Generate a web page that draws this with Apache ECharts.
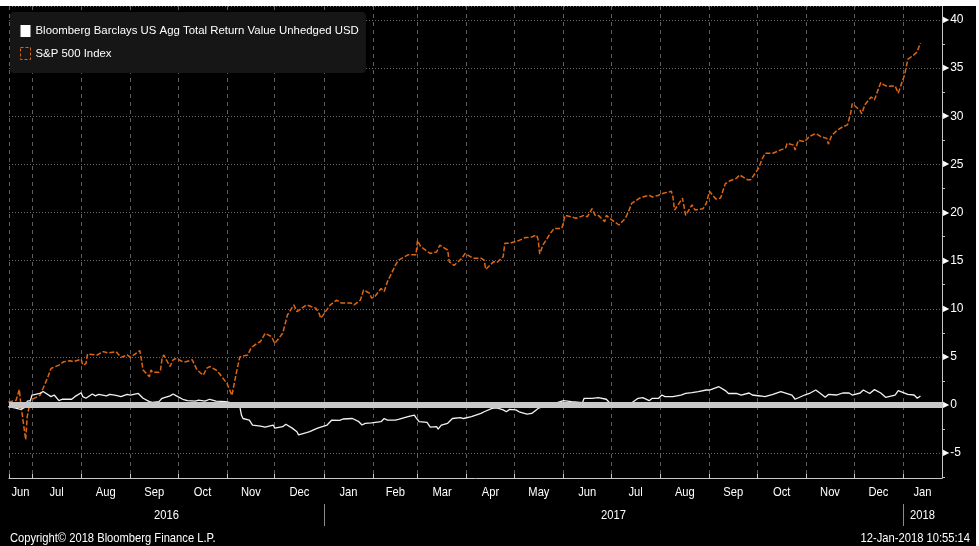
<!DOCTYPE html>
<html><head><meta charset="utf-8">
<script src="https://cdn.jsdelivr.net/npm/echarts@6/dist/echarts.min.js"></script>
<style>
html,body{margin:0;padding:0;background:#fff;overflow:hidden;}
#c{position:absolute;left:0;top:6px;width:976px;height:540px;background:#000;}
</style></head><body><div id="c"></div>
<script>
const seriesNames = ['Bloomberg Barclays US Agg Total Return Value Unhedged USD', 'S&P 500 Index'];
const monthNames = ['Jan','Feb','Mar','Apr','May','Jun','Jul','Aug','Sep','Oct','Nov','Dec'];
const yearLabels = ['2016','2017','2018'];
const footerLeft = 'Copyright\u00A9 2018 Bloomberg Finance L.P.';
const footerRight = '12-Jan-2018 10:55:14';

const sp500 = [
['2016-06-16',0.3],['2016-06-21',0.5],['2016-06-23',1.6],['2016-06-24',0.0],['2016-06-27',-3.6],['2016-06-28',-1.2],['2016-06-30',0.5],
['2016-07-06',1.0],['2016-07-08',1.75],['2016-07-11',2.9],['2016-07-13',3.8],['2016-07-18',4.15],['2016-07-21',4.5],['2016-07-25',4.6],['2016-07-27',4.5],
['2016-08-01',4.75],['2016-08-02',4.15],['2016-08-04',4.3],['2016-08-05',5.3],['2016-08-11',5.2],['2016-08-15',5.55],['2016-08-18',5.4],['2016-08-23',5.55],['2016-08-26',4.95],['2016-08-30',5.2],
['2016-09-01',4.95],['2016-09-07',5.65],['2016-09-08',5.55],['2016-09-09',3.64],['2016-09-13',2.94],['2016-09-14',3.64],['2016-09-15',3.4],['2016-09-19',3.4],['2016-09-20',3.64],['2016-09-21',4.85],['2016-09-22',5.2],['2016-09-26',4.0],['2016-09-28',4.7],['2016-09-30',4.85],
['2016-10-04',4.5],['2016-10-06',4.5],['2016-10-10',4.7],['2016-10-13',3.64],['2016-10-17',3.1],['2016-10-19',3.8],['2016-10-21',4.0],['2016-10-25',3.64],['2016-10-27',3.3],
['2016-11-01',2.2],['2016-11-03',1.4],['2016-11-04',1.0],['2016-11-07',3.5],['2016-11-09',5.0],['2016-11-14',5.2],['2016-11-16',5.9],['2016-11-18',6.2],['2016-11-22',6.6],['2016-11-25',7.45],['2016-11-29',7.1],
['2016-12-01',6.4],['2016-12-06',7.45],['2016-12-09',9.35],['2016-12-13',10.4],['2016-12-15',9.7],['2016-12-21',10.4],['2016-12-27',10.05],['2016-12-29',9.5],['2016-12-30',9.0],
['2017-01-05',10.4],['2017-01-09',10.9],['2017-01-12',10.6],['2017-01-18',10.6],['2017-01-20',10.4],['2017-01-24',10.9],['2017-01-26',11.95],['2017-01-30',11.6],['2017-01-31',11.1],
['2017-02-02',11.25],['2017-02-06',12.1],['2017-02-08',11.8],['2017-02-10',12.8],['2017-02-15',14.5],['2017-02-17',15.05],['2017-02-23',15.6],['2017-02-28',15.6],
['2017-03-01',17.1],['2017-03-03',16.45],['2017-03-09',15.75],['2017-03-13',15.9],['2017-03-15',16.6],['2017-03-20',16.1],['2017-03-21',14.9],['2017-03-24',14.5],['2017-03-29',15.25],['2017-03-31',15.75],
['2017-04-05',15.25],['2017-04-10',15.25],['2017-04-12',15.05],['2017-04-13',14.1],['2017-04-18',14.9],['2017-04-20',14.8],['2017-04-24',15.4],['2017-04-25',16.8],['2017-04-28',16.8],
['2017-05-04',17.1],['2017-05-08',17.4],['2017-05-11',17.4],['2017-05-15',17.65],['2017-05-16',17.2],['2017-05-17',15.7],['2017-05-19',16.6],['2017-05-23',17.65],['2017-05-26',18.35],['2017-05-31',18.35],
['2017-06-02',19.7],['2017-06-06',19.55],['2017-06-09',19.4],['2017-06-14',19.7],['2017-06-16',19.55],['2017-06-19',20.4],['2017-06-21',19.7],['2017-06-23',19.7],['2017-06-27',19.05],['2017-06-28',19.7],['2017-06-30',19.4],
['2017-07-06',18.7],['2017-07-10',19.4],['2017-07-11',19.55],['2017-07-12',20.1],['2017-07-14',20.95],['2017-07-19',21.5],['2017-07-21',21.6],['2017-07-25',21.8],['2017-07-27',21.6],['2017-07-31',21.8],
['2017-08-03',22.0],['2017-08-08',22.2],['2017-08-09',21.6],['2017-08-10',20.25],['2017-08-15',21.5],['2017-08-16',21.3],['2017-08-17',19.7],['2017-08-21',20.8],['2017-08-23',20.25],['2017-08-28',20.4],['2017-08-30',20.95],
['2017-09-01',22.2],['2017-09-05',21.4],['2017-09-08',21.5],['2017-09-11',23.0],['2017-09-14',23.3],['2017-09-18',23.55],['2017-09-20',23.9],['2017-09-25',23.4],['2017-09-27',23.4],
['2017-10-02',24.6],['2017-10-04',25.45],['2017-10-06',26.15],['2017-10-11',26.15],['2017-10-16',26.5],['2017-10-19',26.7],['2017-10-20',27.2],['2017-10-24',27.0],['2017-10-25',26.5],['2017-10-27',27.5],['2017-10-31',27.35],
['2017-11-03',27.9],['2017-11-07',28.2],['2017-11-08',28.3],['2017-11-10',27.9],['2017-11-14',27.7],['2017-11-15',27.1],['2017-11-17',28.0],['2017-11-21',28.6],['2017-11-24',28.9],['2017-11-27',29.1],['2017-11-29',30.3],['2017-11-30',31.3],
['2017-12-05',30.6],['2017-12-06',30.25],['2017-12-08',31.2],['2017-12-12',32.0],['2017-12-13',32.1],['2017-12-14',31.7],['2017-12-18',33.5],['2017-12-20',33.25],['2017-12-22',33.1],['2017-12-27',33.15],['2017-12-29',32.4],
['2018-01-02',34.3],['2018-01-04',35.9],['2018-01-08',36.4],['2018-01-10',36.7],['2018-01-11',37.2],['2018-01-12',37.6]
];

const aggBond = [
['2016-06-16',-0.17],['2016-06-20',-0.3],['2016-06-24',-0.45],['2016-06-27',-0.2],['2016-06-28',0.4],['2016-06-30',0.45],
['2016-07-01',1.04],['2016-07-06',1.2],['2016-07-08',1.4],['2016-07-13',0.87],['2016-07-15',1.04],['2016-07-18',0.45],['2016-07-20',0.6],['2016-07-26',0.6],['2016-07-28',0.87],
['2016-08-01',1.28],['2016-08-02',0.87],['2016-08-04',0.7],['2016-08-08',1.15],['2016-08-10',0.95],['2016-08-12',1.1],['2016-08-17',0.95],['2016-08-19',1.1],['2016-08-23',1.0],['2016-08-26',0.87],['2016-08-30',1.1],
['2016-09-01',1.04],['2016-09-06',1.2],['2016-09-09',0.7],['2016-09-13',0.35],['2016-09-15',0.28],['2016-09-19',0.35],['2016-09-21',0.7],['2016-09-26',0.95],['2016-09-28',1.15],['2016-09-30',0.95],
['2016-10-04',0.6],['2016-10-07',0.45],['2016-10-12',0.4],['2016-10-14',0.5],['2016-10-18',0.4],['2016-10-21',0.6],['2016-10-25',0.4],['2016-10-31',0.35],
['2016-11-03',0.25],['2016-11-04',0.35],['2016-11-09',-0.17],['2016-11-10',-1.04],['2016-11-11',-1.4],['2016-11-15',-1.56],['2016-11-17',-2.08],['2016-11-22',-2.2],['2016-11-25',-2.3],['2016-11-30',-2.08],
['2016-12-01',-2.4],['2016-12-06',-2.25],['2016-12-08',-2.0],['2016-12-12',-2.4],['2016-12-15',-2.77],['2016-12-16',-3.1],['2016-12-21',-2.87],['2016-12-23',-2.77],['2016-12-28',-2.4],
['2017-01-03',-2.08],['2017-01-06',-1.56],['2017-01-11',-1.6],['2017-01-13',-1.45],['2017-01-19',-1.4],['2017-01-23',-1.73],['2017-01-25',-2.08],['2017-01-27',-1.9],['2017-01-31',-1.85],
['2017-02-06',-1.73],['2017-02-08',-1.4],['2017-02-10',-1.56],['2017-02-15',-1.56],['2017-02-17',-1.5],['2017-02-23',-1.2],['2017-02-27',-1.04],['2017-02-28',-1.3],
['2017-03-02',-1.73],['2017-03-07',-1.8],['2017-03-09',-2.3],['2017-03-13',-2.25],['2017-03-14',-2.5],['2017-03-16',-2.08],['2017-03-20',-1.9],['2017-03-23',-1.4],['2017-03-28',-1.3],['2017-03-30',-1.4],
['2017-04-04',-1.2],['2017-04-10',-0.87],['2017-04-12',-0.7],['2017-04-17',-0.35],['2017-04-20',-0.3],['2017-04-24',-0.5],['2017-04-26',-0.7],['2017-04-28',-0.45],
['2017-05-02',-0.5],['2017-05-04',-0.7],['2017-05-09',-0.94],['2017-05-12',-0.87],['2017-05-16',-0.35],['2017-05-17',-0.17],['2017-05-22',0.05],['2017-05-26',0.15],
['2017-06-01',0.45],['2017-06-06',0.35],['2017-06-13',0.24],['2017-06-14',0.7],['2017-06-19',0.7],['2017-06-23',0.76],['2017-06-28',0.6],['2017-06-30',0.24],
['2017-07-07',0.1],['2017-07-13',0.1],['2017-07-18',0.7],['2017-07-21',0.76],['2017-07-25',0.45],['2017-07-27',0.7],['2017-07-31',0.7],
['2017-08-02',1.04],['2017-08-04',0.87],['2017-08-09',0.87],['2017-08-14',1.04],['2017-08-17',1.2],['2017-08-21',1.28],['2017-08-25',1.4],['2017-08-30',1.56],
['2017-09-01',1.56],['2017-09-07',1.9],['2017-09-11',1.5],['2017-09-13',1.2],['2017-09-18',1.2],['2017-09-21',1.04],['2017-09-26',1.25],['2017-09-28',1.04],
['2017-10-03',0.94],['2017-10-06',0.87],['2017-10-11',1.1],['2017-10-16',1.4],['2017-10-18',1.3],['2017-10-23',1.04],['2017-10-25',0.6],['2017-10-31',1.04],
['2017-11-03',1.2],['2017-11-07',1.56],['2017-11-10',1.2],['2017-11-13',0.8],['2017-11-15',1.1],['2017-11-20',1.04],['2017-11-24',1.25],['2017-11-28',1.25],['2017-11-30',1.04],
['2017-12-05',1.25],['2017-12-07',1.56],['2017-12-11',1.2],['2017-12-14',1.6],['2017-12-18',1.25],['2017-12-21',0.8],['2017-12-27',1.04],['2017-12-29',1.5],
['2018-01-04',1.1],['2018-01-08',1.04],['2018-01-10',0.7],['2018-01-12',0.94]
];

const FONT = "'Liberation Sans','Arial',sans-serif";
const DAY = 86400000;
const xMin = new Date(2016, 5, 16, 12).getTime();
const xMax = new Date(2018, 0, 25, 14).getTime();
const ORANGE = '#de6612';

const chart = echarts.init(document.getElementById('c'), null, {renderer: 'canvas'});
const option = {
  backgroundColor: '#000',
  animation: false,
  grid: {left: 9, right: 34, top: 0, bottom: 68, containLabel: false},
  legend: {
    orient: 'vertical', left: 10, top: 6,
    backgroundColor: '#161616', borderRadius: 4,
    padding: [13, 7, 13, 10],
    itemWidth: 10, itemHeight: 12, itemGap: 10,
    icon: 'rect',
    textStyle: {color: '#ffffff', fontFamily: FONT, fontSize: 11.4},
    data: [
      {name: seriesNames[0], itemStyle: {color: '#ffffff', borderWidth: 0}},
      {name: seriesNames[1], itemStyle: {color: 'rgba(0,0,0,0)', borderColor: ORANGE, borderWidth: 1, borderType: [3, 2]}}
    ]
  },
  xAxis: {
    type: 'time', min: xMin, max: xMax,
    splitNumber: 19, minInterval: 28 * DAY, maxInterval: 31 * DAY,
    axisLine: {show: true, onZero: false, lineStyle: {color: '#c8c8c8', width: 1}},
    axisTick: {show: true, inside: true, length: 4, lineStyle: {color: '#c8c8c8'}},
    axisLabel: {show: false},
    splitLine: {show: true, lineStyle: {color: '#5e5e5e', type: [4, 4], width: 1}}
  },
  yAxis: {
    type: 'value', position: 'right', min: -7.58, max: 41.45, splitNumber: 10,
    axisLine: {show: true, lineStyle: {color: '#c8c8c8', width: 1}},
    axisTick: {show: false},
    minorTick: {show: true, splitNumber: 2, length: 3, lineStyle: {color: '#c8c8c8'}},
    minorSplitLine: {show: false},
    splitLine: {show: true, lineStyle: {color: '#6a6a6a', type: [1, 2], width: 1}},
    axisLabel: {
      show: true, showMinLabel: false, showMaxLabel: false, margin: 1,
      color: '#ffffff', fontFamily: FONT, fontSize: 12,
      formatter: v => '{t|\u25B6}' + v,
      rich: {t: {fontSize: 8, fontFamily: 'DejaVu Sans', color: '#ffffff', padding: [0, 1, 0, 0]}}
    }
  },
  series: [
    {
      name: seriesNames[1], type: 'line', data: sp500, showSymbol: false, symbol: 'none',
      lineStyle: {color: ORANGE, width: 1.5, type: [5, 2]}, itemStyle: {color: ORANGE}, z: 3
    },
    {
      name: seriesNames[0], type: 'line', data: aggBond, showSymbol: false, symbol: 'none',
      lineStyle: {color: '#f2f2f2', width: 1.3}, itemStyle: {color: '#ffffff'}, z: 4,
      markLine: {
        silent: true, symbol: ['none', 'none'], label: {show: false},
        lineStyle: {color: '#c8c8c8', width: 6, type: 'solid'},
        data: [{yAxis: 0}]
      }
    }
  ]
};
chart.setOption(option);

const px = t => chart.convertToPixel({xAxisIndex: 0}, t);
const g = [];
const textEl = (text, x, y, align) => ({
  type: 'text', x: x, y: y, scaleX: 0.86, silent: true,
  style: {text: text, fill: '#ffffff', fontSize: 13, fontFamily: FONT, align: align, verticalAlign: 'middle'}
});
let d = new Date(2016, 5, 1);
while (d.getTime() < xMax) {
  const next = new Date(d.getFullYear(), d.getMonth() + 1, 1);
  const a = Math.max(d.getTime(), xMin), b = Math.min(next.getTime(), xMax);
  g.push(textEl(monthNames[d.getMonth()], (px(a) + px(b)) / 2, 486, 'center'));
  d = next;
}
yearLabels.forEach(ys => {
  const y = +ys;
  const a = Math.max(new Date(y, 0, 1).getTime(), xMin), b = Math.min(new Date(y + 1, 0, 1).getTime(), xMax);
  g.push(textEl(ys, (px(a) + px(b)) / 2, 509, 'center'));
  const s = new Date(y, 0, 1).getTime();
  if (s > xMin) {
    const sx = Math.round(px(s)) + 0.5;
    g.push({type: 'line', silent: true, shape: {x1: sx, y1: 498, x2: sx, y2: 520}, style: {stroke: '#8a8a8a', lineWidth: 1}});
  }
});
g.push(textEl(footerLeft, 10, 532, 'left'));
g.push(textEl(footerRight, 970, 532, 'right'));
chart.setOption({graphic: g});
</script>
</body></html>
